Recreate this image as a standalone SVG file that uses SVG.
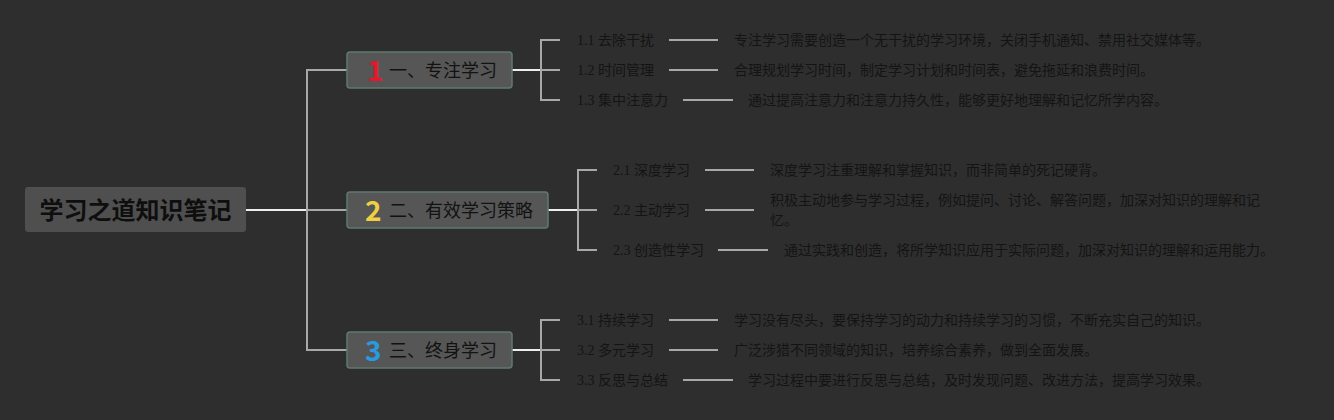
<svg xmlns="http://www.w3.org/2000/svg" width="1334" height="420" viewBox="0 0 1334 420">
<style>
.bg{fill:#2e2e2e}
.root{fill:#4f4f4f}
.rt{font-family:"Noto Sans CJK SC",sans-serif;font-weight:bold;font-size:24px;fill:#0e0e0e}
.box{fill:#565656;stroke:#5d7b6d;stroke-width:1.5}
.bt{font-family:"Noto Sans CJK SC",sans-serif;font-size:18px;fill:#121212}
.num{font-family:"Noto Sans CJK SC",sans-serif;font-weight:bold;font-size:28px}
.lb{font-family:"Liberation Serif","Noto Sans CJK SC",serif;font-size:14px;fill:#141414}
.ds{font-family:"Noto Sans CJK SC",sans-serif;font-size:14px;fill:#141414}
.w{stroke:#eeeeee;stroke-width:2;fill:none}
.g{stroke:#a8a8a8;stroke-width:2;fill:none}
</style>
<rect class="bg" x="0" y="0" width="1334" height="420"/>
<g id="connectors">
<line class="w" x1="246" y1="210" x2="307" y2="210"/>
<path class="g" d="M347 70H307V350H347"/>
<line class="g" x1="307" y1="210" x2="347" y2="210"/>
<line class="w" x1="512" y1="70" x2="541" y2="70"/>
<path class="g" d="M560 40H541V100H560M541 70H560"/>
<line class="w" x1="548" y1="210" x2="578" y2="210"/>
<path class="g" d="M597 170H578V250H597M578 210H597"/>
<line class="w" x1="512" y1="350" x2="541" y2="350"/>
<path class="g" d="M560 320H541V380H560M541 350H560"/>
<line class="g" x1="669" y1="40" x2="718" y2="40"/>
<line class="g" x1="669" y1="70" x2="718" y2="70"/>
<line class="g" x1="683" y1="100" x2="733" y2="100"/>
<line class="g" x1="705" y1="170" x2="754" y2="170"/>
<line class="g" x1="705" y1="210" x2="754" y2="210"/>
<line class="g" x1="718" y1="250" x2="768" y2="250"/>
<line class="g" x1="669" y1="320" x2="718" y2="320"/>
<line class="g" x1="669" y1="350" x2="718" y2="350"/>
<line class="g" x1="683" y1="380" x2="733" y2="380"/>
</g>
<g id="root">
<rect class="root" x="25" y="187" width="221" height="45" rx="3"/>
<text class="rt" x="135.5" y="219" text-anchor="middle">学习之道知识笔记</text>
</g>
<g id="n1">
<rect class="box" x="347" y="52" width="165" height="36" rx="3"/>
<text class="num" x="367" y="81" fill="#e01a2c">1</text>
<text class="bt" x="389" y="77">一、专注学习</text>
</g>
<g id="n2">
<rect class="box" x="347" y="192" width="201" height="36" rx="3"/>
<text class="num" x="365" y="221" fill="#f0d040">2</text>
<text class="bt" x="389" y="217">二、有效学习策略</text>
</g>
<g id="n3">
<rect class="box" x="347" y="332" width="165" height="36" rx="3"/>
<text class="num" x="365" y="361" fill="#2a9ae0">3</text>
<text class="bt" x="389" y="357">三、终身学习</text>
</g>
<g id="n11"><text class="lb" x="577" y="45">1.1 去除干扰</text><text class="ds" x="734" y="45">专注学习需要创造一个无干扰的学习环境，关闭手机通知、禁用社交媒体等。</text></g>
<g id="n12"><text class="lb" x="577" y="75">1.2 时间管理</text><text class="ds" x="734" y="75">合理规划学习时间，制定学习计划和时间表，避免拖延和浪费时间。</text></g>
<g id="n13"><text class="lb" x="577" y="105">1.3 集中注意力</text><text class="ds" x="748" y="105">通过提高注意力和注意力持久性，能够更好地理解和记忆所学内容。</text></g>
<g id="n21"><text class="lb" x="613" y="175">2.1 深度学习</text><text class="ds" x="770" y="175">深度学习注重理解和掌握知识，而非简单的死记硬背。</text></g>
<g id="n22"><text class="lb" x="613" y="215">2.2 主动学习</text><text class="ds" x="770" y="205">积极主动地参与学习过程，例如提问、讨论、解答问题，加深对知识的理解和记</text><text class="ds" x="770" y="225">忆。</text></g>
<g id="n23"><text class="lb" x="613" y="255">2.3 创造性学习</text><text class="ds" x="784" y="255">通过实践和创造，将所学知识应用于实际问题，加深对知识的理解和运用能力。</text></g>
<g id="n31"><text class="lb" x="577" y="325">3.1 持续学习</text><text class="ds" x="734" y="325">学习没有尽头，要保持学习的动力和持续学习的习惯，不断充实自己的知识。</text></g>
<g id="n32"><text class="lb" x="577" y="355">3.2 多元学习</text><text class="ds" x="734" y="355">广泛涉猎不同领域的知识，培养综合素养，做到全面发展。</text></g>
<g id="n33"><text class="lb" x="577" y="385">3.3 反思与总结</text><text class="ds" x="748" y="385">学习过程中要进行反思与总结，及时发现问题、改进方法，提高学习效果。</text></g>
</svg>
